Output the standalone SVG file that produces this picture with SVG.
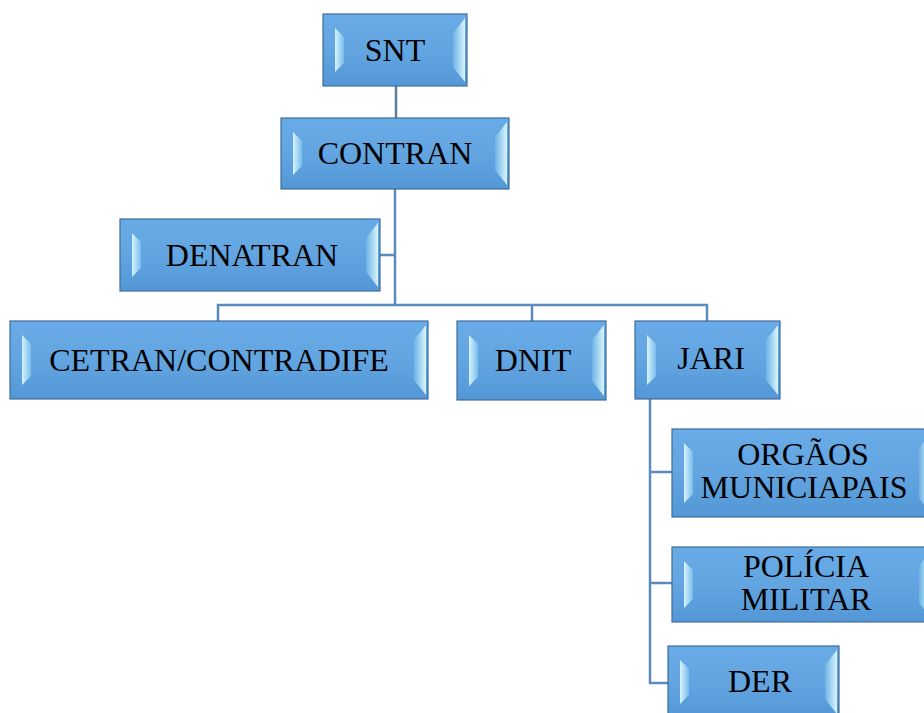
<svg xmlns="http://www.w3.org/2000/svg" width="924" height="713" viewBox="0 0 924 713">
<defs>
<linearGradient id="face" x1="0" y1="0" x2="0" y2="1">
<stop offset="0" stop-color="#68abe6"/>
<stop offset="0.5" stop-color="#62a5e1"/>
<stop offset="1" stop-color="#5397d6"/>
</linearGradient>
<linearGradient id="lb" x1="0" y1="0" x2="1" y2="0">
<stop offset="0" stop-color="#d6f4fd"/>
<stop offset="1" stop-color="#78bcec"/>
</linearGradient>
<linearGradient id="rb" x1="0" y1="0" x2="1" y2="0">
<stop offset="0" stop-color="#6fb2e6"/>
<stop offset="1" stop-color="#d8f5fd"/>
</linearGradient>
<style>
.box{fill:url(#face);stroke:#3f6d98;stroke-width:1.2}
.lb{fill:url(#lb)}
.rb{fill:url(#rb)}
.t{font-family:"Liberation Serif","Times New Roman",serif;font-size:32px;fill:#000;text-anchor:middle}
.c{fill:none;stroke:#5a8bbd;stroke-width:2.5}
</style>
</defs>
<rect width="924" height="713" fill="#fff"/>
<g id="connectors">
<path class="c" d="M396 86V118" style="stroke:#5d7f9c"/>
<path class="c" d="M395 189V305M380 255H395M218 321V305H707V321M532 305V321"/>
<path class="c" d="M650 399V683H668M650 472H672M650 583H672"/>
</g>
<g id="snt">
<rect class="box" x="323" y="14" width="144" height="72"/>
<polygon class="lb" points="335,28 344,37 344,63 335,72"/>
<polygon class="rb" points="453,33 465,18 465,82 453,67"/>
<text class="t" x="395" y="61">SNT</text>
</g>
<g id="contran">
<rect class="box" x="281" y="118" width="228" height="71"/>
<polygon class="lb" points="293,132 302,141 302,166 293,175"/>
<polygon class="rb" points="495,137 507,122 507,185 495,170"/>
<text class="t" x="395" y="164">CONTRAN</text>
</g>
<g id="denatran">
<rect class="box" x="120" y="219" width="260" height="72"/>
<polygon class="lb" points="132,233 141,242 141,268 132,277"/>
<polygon class="rb" points="366,238 378,223 378,287 366,272"/>
<text class="t" x="252" y="266">DENATRAN</text>
</g>
<g id="cetran">
<rect class="box" x="10" y="321" width="418" height="78"/>
<polygon class="lb" points="22,335 31,344 31,376 22,385"/>
<polygon class="rb" points="414,340 426,325 426,395 414,380"/>
<text class="t" x="219" y="371">CETRAN/CONTRADIFE</text>
</g>
<g id="dnit">
<rect class="box" x="457" y="321" width="149" height="79"/>
<polygon class="lb" points="469,335 478,344 478,377 469,386"/>
<polygon class="rb" points="592,340 604,325 604,396 592,381"/>
<text class="t" x="533" y="371">DNIT</text>
</g>
<g id="jari">
<rect class="box" x="635" y="321" width="145" height="78"/>
<polygon class="lb" points="647,335 656,344 656,376 647,385"/>
<polygon class="rb" points="766,340 778,325 778,395 766,380"/>
<text class="t" x="711" y="369">JARI</text>
</g>
<g id="orgaos">
<rect class="box" x="672" y="429" width="261" height="88"/>
<polygon class="lb" points="684,443 693,452 693,494 684,503"/>
<polygon class="rb" points="919,448 931,433 931,513 919,498"/>
<text class="t" x="803" y="465">ORGÃOS</text>
<text class="t" x="804" y="498">MUNICIAPAIS</text>
</g>
<g id="policia">
<rect class="box" x="672" y="547" width="261" height="75"/>
<polygon class="lb" points="684,561 693,570 693,599 684,608"/>
<polygon class="rb" points="919,566 931,551 931,618 919,603"/>
<text class="t" x="806" y="577">POLÍCIA</text>
<text class="t" x="806" y="610">MILITAR</text>
</g>
<g id="der">
<rect class="box" x="668" y="646" width="171" height="72"/>
<polygon class="lb" points="680,660 689,669 689,695 680,704"/>
<polygon class="rb" points="825,665 837,650 837,714 825,699"/>
<text class="t" x="760" y="692">DER</text>
</g>
</svg>
